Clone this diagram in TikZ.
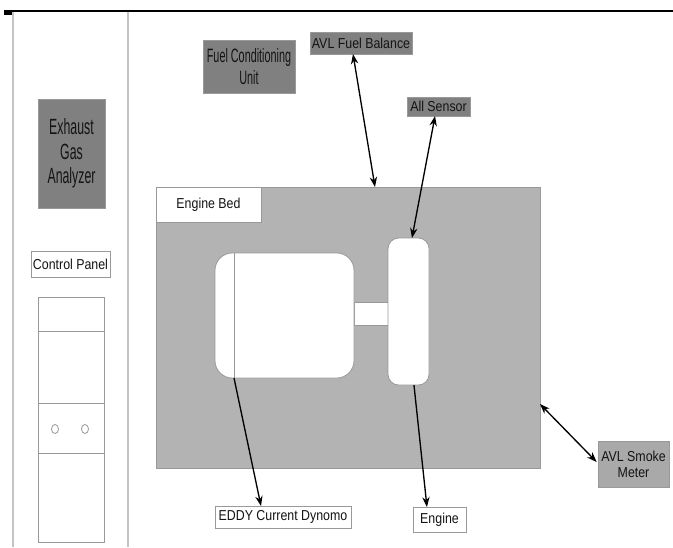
\documentclass[tikz,border=0pt]{standalone}
\usepackage{fontspec}
\setmainfont[FakeStretch=0.86]{Liberation Sans}
\newfontfamily\narrowf[FakeStretch=0.56]{Liberation Sans}
\usetikzlibrary{arrows.meta}
\definecolor{txt}{HTML}{141414}
\definecolor{darkbox}{HTML}{808080}
\definecolor{smokebox}{HTML}{A9A9A9}
\definecolor{bedfill}{HTML}{B3B3B3}
\definecolor{edge}{HTML}{999999}
\definecolor{rule}{HTML}{C4C4C4}
\tikzset{
  box/.style={draw=edge, line width=0.6pt, inner sep=0pt, outer sep=0pt, text=txt, align=center,
    font=\fontsize{10.8pt}{11.8pt}\selectfont},
  whitebox/.style={box, fill=white},
  greybox/.style={box, fill=darkbox},
  narrowbox/.style={box, fill=darkbox},
  conn/.style={line width=1pt, draw=black, -{Stealth[length=7.5pt,width=5.5pt]}},
  dconn/.style={line width=1pt, draw=black, {Stealth[length=7.5pt,width=5.5pt]}-{Stealth[length=7.5pt,width=5.5pt]}},
  part/.style={draw=edge, line width=0.6pt, fill=white},
}
\begin{document}
\begin{tikzpicture}[x=0.75pt, y=-0.75pt]
\useasboundingbox (0,0) rectangle (673,547);
% frame lines
\draw[line width=1.6pt] (4,11) -- (673,11);
\fill[black] (4,10) rectangle (13,15);
\draw[rule, line width=1pt] (13,12) -- (13,547);
\draw[rule, line width=1pt] (128,12) -- (128,547);

% left column
\node[narrowbox, minimum width=67*0.75pt, minimum height=109*0.75pt,
      font=\narrowf\fontsize{16.5pt}{18.5pt}\selectfont] (ega) at (71.5,153.5) {Exhaust\\Gas\\Analyzer};
\node[whitebox, minimum width=79*0.75pt, minimum height=26*0.75pt] (cp) at (70.5,264) {Control Panel};
% cabinet
\draw[part] (38,297) rectangle (104,542);
\draw[edge, line width=0.6pt] (38,331) -- (104,331);
\draw[edge, line width=0.6pt] (38,403) -- (104,403);
\draw[edge, line width=0.6pt] (38,453) -- (104,453);
\draw[edge, line width=0.6pt] (55,429) ellipse [x radius=3.5, y radius=4.5];
\draw[edge, line width=0.6pt] (85,429) ellipse [x radius=3.5, y radius=4.5];

% top boxes
\node[narrowbox, minimum width=92*0.75pt, minimum height=53*0.75pt,
      font=\narrowf\fontsize{14.5pt}{16.5pt}\selectfont] (fcu) at (249,66.5) {Fuel Conditioning\\Unit};
\node[greybox, minimum width=102*0.75pt, minimum height=22*0.75pt] (fb) at (361,43) {AVL Fuel Balance};
\node[greybox, minimum width=63*0.75pt, minimum height=19*0.75pt] (as) at (438.5,106.5) {All Sensor};

% engine bed
\node[box, fill=bedfill, draw=edge, minimum width=384*0.75pt, minimum height=281*0.75pt] (bed) at (348,327.5) {};
\node[whitebox, draw=edge, minimum width=105*0.75pt, minimum height=35*0.75pt] (bedlbl) at (208.5,204.5) {Engine Bed};
\coordinate (bedtop) at (375,187);
\coordinate (bedright) at (540,404);

% machines
\draw[part] (354,302) rectangle (388,325);
\node[box, fill=white, rounded corners=13pt, minimum width=139*0.75pt, minimum height=125*0.75pt] (dyn) at (284.5,315.5) {};
\draw[edge, line width=0.6pt] (234,253) -- (234,378);
\coordinate (dynline) at (234,378);
\node[box, fill=white, rounded corners=8pt, minimum width=41*0.75pt, minimum height=147*0.75pt] (eng) at (408.5,311.5) {};

% labels below / right
\node[whitebox, minimum width=136*0.75pt, minimum height=22*0.75pt] (eddy) at (283,517) {EDDY Current Dynomo};
\node[whitebox, minimum width=53*0.75pt, minimum height=25*0.75pt] (englbl) at (439.5,519.5) {Engine};
\node[box, fill=smokebox, minimum width=71*0.75pt, minimum height=46*0.75pt] (smoke) at (633.5,464) {AVL Smoke\\Meter};

% connectors
\draw[dconn] ([xshift=-6pt]fb.south) -- (bedtop);
\draw[dconn] ([xshift=-2.6pt]as.south) -- ([xshift=2.6pt]eng.north);
\draw[conn] (dynline) -- ([xshift=-16.5pt]eddy.north);
\draw[conn] ([xshift=4.1pt]eng.south) -- ([xshift=-9.4pt]englbl.north);
\draw[dconn] (bedright) -- ([xshift=-1pt,yshift=1.5pt]smoke.west);
\end{tikzpicture}
\end{document}
